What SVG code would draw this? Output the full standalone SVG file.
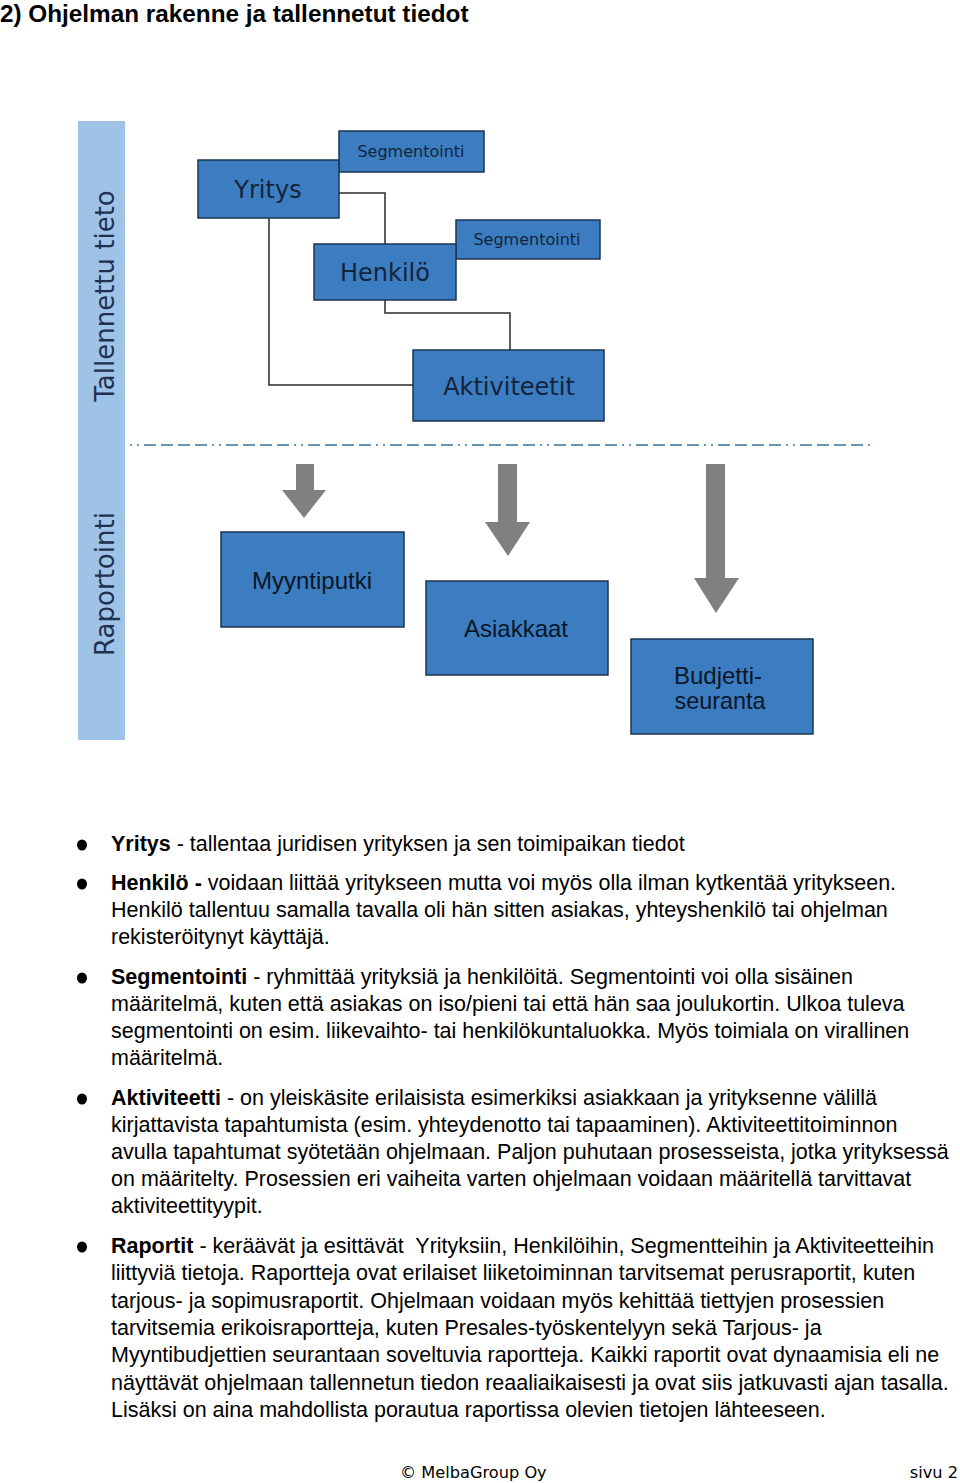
<svg xmlns="http://www.w3.org/2000/svg" width="960" height="1483" viewBox="0 0 960 1483">
<style>
.box{fill:#3b7dc0;stroke:#1c3552;stroke-width:1.5}
.tb{font-family:"DejaVu Sans",Verdana,sans-serif;fill:#15243a;text-anchor:middle}
.bb{font-family:"Liberation Sans",Arial,sans-serif;fill:#0b1628;text-anchor:middle;font-size:24px}
.vt{font-family:"DejaVu Sans",Verdana,sans-serif;fill:#1f3050;font-size:26px;text-anchor:middle}
.con{fill:none;stroke:#2a2a2a;stroke-width:1.5}
.arr{fill:#808080}
.p{font-family:"Liberation Sans",Arial,sans-serif;font-size:21.5px;fill:#000}
.b{font-weight:bold}
.bul{fill:#000}
.ft{font-family:"DejaVu Sans",Verdana,sans-serif;font-size:16.2px;fill:#000}
</style>
<rect width="960" height="1483" fill="#fff"/>
<text x="0" y="21.5" font-family="Liberation Sans, Arial, sans-serif" font-size="24.3" font-weight="bold">2) Ohjelman rakenne ja tallennetut tiedot</text>

<g id="sidebar">
<rect x="78" y="121" width="47" height="619" fill="#9fc3e6"/>
<text class="vt" transform="translate(114,296) rotate(-90)">Tallennettu tieto</text>
<text class="vt" transform="translate(114,584) rotate(-90)">Raportointi</text>
</g>

<g id="separator">
<line x1="130" y1="445" x2="872" y2="445" stroke="#3f7396" stroke-width="1.5" stroke-dasharray="2,5,2,5,12,5,12,5,12,5,12,5"/>
</g>

<g id="connectors">
<polyline class="con" points="339,193 385,193 385,244"/>
<polyline class="con" points="385,300 385,313 510,313 510,350"/>
<polyline class="con" points="269,218 269,385 413,385"/>
<polygon class="arr" points="296,464 314,464 314,490 326,490 304,518 282,490 296,490"/>
<polygon class="arr" points="498,464 517,464 517,522 530,522 508,556 485,522 498,522"/>
<polygon class="arr" points="706,464 725,464 725,578 739,578 716,613 694,578 706,578"/>
</g>

<g id="seg1">
<rect class="box" x="339" y="131" width="145" height="41"/>
<text class="tb" x="411" y="157" font-size="16">Segmentointi</text>
</g>
<g id="yritys">
<rect class="box" x="198" y="160" width="141" height="58"/>
<text class="tb" x="268" y="198" font-size="24">Yritys</text>
</g>
<g id="seg2">
<rect class="box" x="456" y="220" width="144" height="39"/>
<text class="tb" x="527" y="245" font-size="16">Segmentointi</text>
</g>
<g id="henkilo">
<rect class="box" x="314" y="244" width="142" height="56"/>
<text class="tb" x="385" y="281" font-size="24">Henkilö</text>
</g>
<g id="aktiviteetit">
<rect class="box" x="413" y="350" width="191" height="71"/>
<text class="tb" x="509" y="395" font-size="24">Aktiviteetit</text>
</g>

<g id="myyntiputki">
<rect class="box" x="221" y="532" width="183" height="95"/>
<text class="bb" x="312" y="589" textLength="120" lengthAdjust="spacingAndGlyphs">Myyntiputki</text>
</g>
<g id="asiakkaat">
<rect class="box" x="426" y="581" width="182" height="94"/>
<text class="bb" x="516" y="637" textLength="104" lengthAdjust="spacingAndGlyphs">Asiakkaat</text>
</g>
<g id="budjettiseuranta">
<rect class="box" x="631" y="639" width="182" height="95"/>
<text class="bb" x="718" y="684" textLength="88" lengthAdjust="spacingAndGlyphs">Budjetti-</text>
<text class="bb" x="720" y="709" textLength="91" lengthAdjust="spacingAndGlyphs">seuranta</text>
</g>

<g id="bullets">
<ellipse class="bul" cx="82" cy="845" rx="5" ry="5.5"/>
<ellipse class="bul" cx="82" cy="884" rx="5" ry="5.5"/>
<ellipse class="bul" cx="82" cy="978" rx="5" ry="5.5"/>
<ellipse class="bul" cx="82" cy="1099" rx="5" ry="5.5"/>
<ellipse class="bul" cx="82" cy="1247" rx="5" ry="5.5"/>
</g>

<g id="text">
<text class="p" x="111" y="851"><tspan class="b">Yritys</tspan> - tallentaa juridisen yrityksen ja sen toimipaikan tiedot</text>
<text class="p" x="111" y="890"><tspan class="b">Henkilö -</tspan> voidaan liittää yritykseen mutta voi myös olla ilman kytkentää yritykseen.</text>
<text class="p" x="111" y="917">Henkilö tallentuu samalla tavalla oli hän sitten asiakas, yhteyshenkilö tai ohjelman</text>
<text class="p" x="111" y="944">rekisteröitynyt käyttäjä.</text>
<text class="p" x="111" y="984"><tspan class="b">Segmentointi</tspan> - ryhmittää yrityksiä ja henkilöitä. Segmentointi voi olla sisäinen</text>
<text class="p" x="111" y="1011">määritelmä, kuten että asiakas on iso/pieni tai että hän saa joulukortin. Ulkoa tuleva</text>
<text class="p" x="111" y="1038">segmentointi on esim. liikevaihto- tai henkilökuntaluokka. Myös toimiala on virallinen</text>
<text class="p" x="111" y="1065">määritelmä.</text>
<text class="p" x="111" y="1105"><tspan class="b">Aktiviteetti</tspan> - on yleiskäsite erilaisista esimerkiksi asiakkaan ja yrityksenne välillä</text>
<text class="p" x="111" y="1132">kirjattavista tapahtumista (esim. yhteydenotto tai tapaaminen). Aktiviteettitoiminnon</text>
<text class="p" x="111" y="1159">avulla tapahtumat syötetään ohjelmaan. Paljon puhutaan prosesseista, jotka yrityksessä</text>
<text class="p" x="111" y="1186">on määritelty. Prosessien eri vaiheita varten ohjelmaan voidaan määritellä tarvittavat</text>
<text class="p" x="111" y="1213">aktiviteettityypit.</text>
<text class="p" x="111" y="1253" xml:space="preserve"><tspan class="b">Raportit</tspan> - keräävät ja esittävät  Yrityksiin, Henkilöihin, Segmentteihin ja Aktiviteetteihin</text>
<text class="p" x="111" y="1280">liittyviä tietoja. Raportteja ovat erilaiset liiketoiminnan tarvitsemat perusraportit, kuten</text>
<text class="p" x="111" y="1308">tarjous- ja sopimusraportit. Ohjelmaan voidaan myös kehittää tiettyjen prosessien</text>
<text class="p" x="111" y="1335">tarvitsemia erikoisraportteja, kuten Presales-työskentelyyn sekä Tarjous- ja</text>
<text class="p" x="111" y="1362">Myyntibudjettien seurantaan soveltuvia raportteja. Kaikki raportit ovat dynaamisia eli ne</text>
<text class="p" x="111" y="1390">näyttävät ohjelmaan tallennetun tiedon reaaliaikaisesti ja ovat siis jatkuvasti ajan tasalla.</text>
<text class="p" x="111" y="1417">Lisäksi on aina mahdollista porautua raportissa olevien tietojen lähteeseen.</text>
</g>

<g id="footer">
<text class="ft" x="400" y="1478">© MelbaGroup Oy</text>
<text class="ft" x="958" y="1478" text-anchor="end">sivu 2</text>
</g>
</svg>
